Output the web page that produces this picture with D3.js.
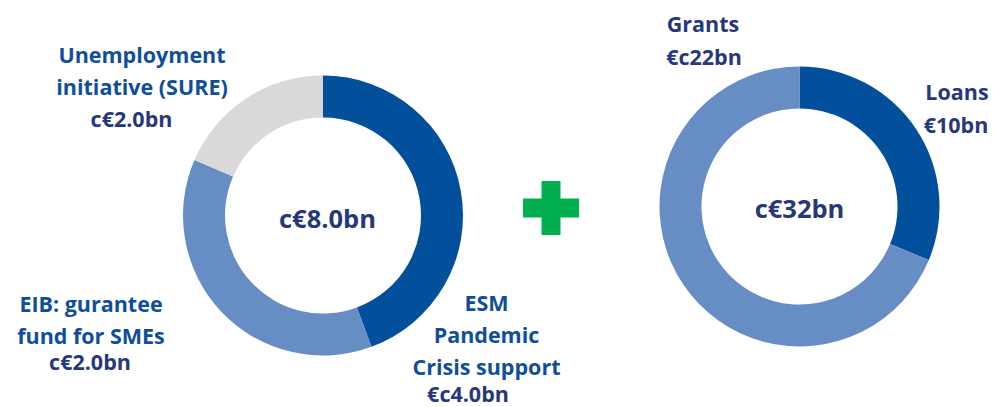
<!DOCTYPE html>
<html>
<head>
<meta charset="utf-8">
<script src="https://cdn.jsdelivr.net/npm/d3@7"></script>
<style>
  body { margin: 0; background: #fff; }
  svg { display: block; font-family: "Open Sans", Lato, sans-serif; font-weight: 700; }
</style>
</head>
<body>
<div class="chart"></div>
<script>
var leftCategories = ["ESM", "EIB", "SURE"],
    leftValues = [3.55, 2.97, 1.48],
    leftTotal = "c€8.0bn";

// right donut: recovery fund split
var rightCategories = ["Loans", "Grants"],
    rightValues = [10, 22],
    rightTotal = "c€32bn";

var leftLabels = [
  {name: ["ESM", "Pandemic", "Crisis support"], value: "€c4.0bn"},
  {name: ["EIB: gurantee", "fund for SMEs"], value: "c€2.0bn"},
  {name: ["Unemployment", "initiative (SURE)"], value: "c€2.0bn"}
];
var rightLabels = [
  {name: ["Loans"], value: "€10bn"},
  {name: ["Grants"], value: "€c22bn"}
];

var width = 994, height = 407,
    outerR = 140, innerR = 98,
    blueText = "#0e4e9b", navyText = "#27387a";

var svg = d3.select(".chart").append("svg")
  .attr("width", width)
  .attr("height", height);

var arc = d3.arc().innerRadius(innerR).outerRadius(outerR);
var pie = d3.pie().sort(null).value(d => d);

function donut(cx, cy, cats, vals, colors, total) {
  var color = d3.scaleOrdinal().domain(cats).range(colors);
  var g = svg.append("g").attr("transform", `translate(${cx},${cy})`);
  g.selectAll("path")
    .data(pie(vals))
    .enter().append("path")
    .attr("d", arc)
    .attr("fill", (d, i) => color(cats[i]));
  return g;
}

var gl = donut(323, 215.5, leftCategories, leftValues, ["#02509c", "#678dc5", "#d9d9d9"], leftTotal);
var gr = donut(799.5, 206.5, rightCategories, rightValues, ["#02509c", "#678dc5"], rightTotal);

gl.append("text").attr("x", 4.5).attr("y", 12.8)
  .attr("text-anchor", "middle").attr("font-size", 25.5)
  .attr("fill", navyText).text(leftTotal);
gr.append("text").attr("x", 0).attr("y", 11.5)
  .attr("text-anchor", "middle").attr("font-size", 25.5)
  .attr("fill", navyText).text(rightTotal);

// label block: name lines, then the value line
function label(x, y, lab, step, nameColor, valueX, valueY) {
  var t = svg.append("text")
    .attr("text-anchor", "middle")
    .attr("font-size", 21.5);
  lab.name.forEach((line, i) => {
    t.append("tspan").attr("x", x).attr("y", y + i * step)
      .attr("fill", nameColor).text(line);
  });
  t.append("tspan").attr("x", valueX).attr("y", valueY)
    .attr("fill", navyText).text(lab.value);
}

label(486.5, 311, leftLabels[0], 32.2, blueText, 468, 401.5);
label(91, 311.5, leftLabels[1], 32.5, blueText, 90, 370);
label(142, 62.7, leftLabels[2], 32.3, blueText, 131.5, 126.7);
label(957, 100, rightLabels[0], 33, navyText, 956, 133.3);
label(703, 31.7, rightLabels[1], 33, navyText, 704, 65);

// plus sign between the donuts
var plus = svg.append("g").attr("fill", "#00b050");
plus.append("rect").attr("x", 541.5).attr("y", 181).attr("width", 19).attr("height", 54);
plus.append("rect").attr("x", 523).attr("y", 198.5).attr("width", 56).attr("height", 19);
</script>
</body>
</html>
